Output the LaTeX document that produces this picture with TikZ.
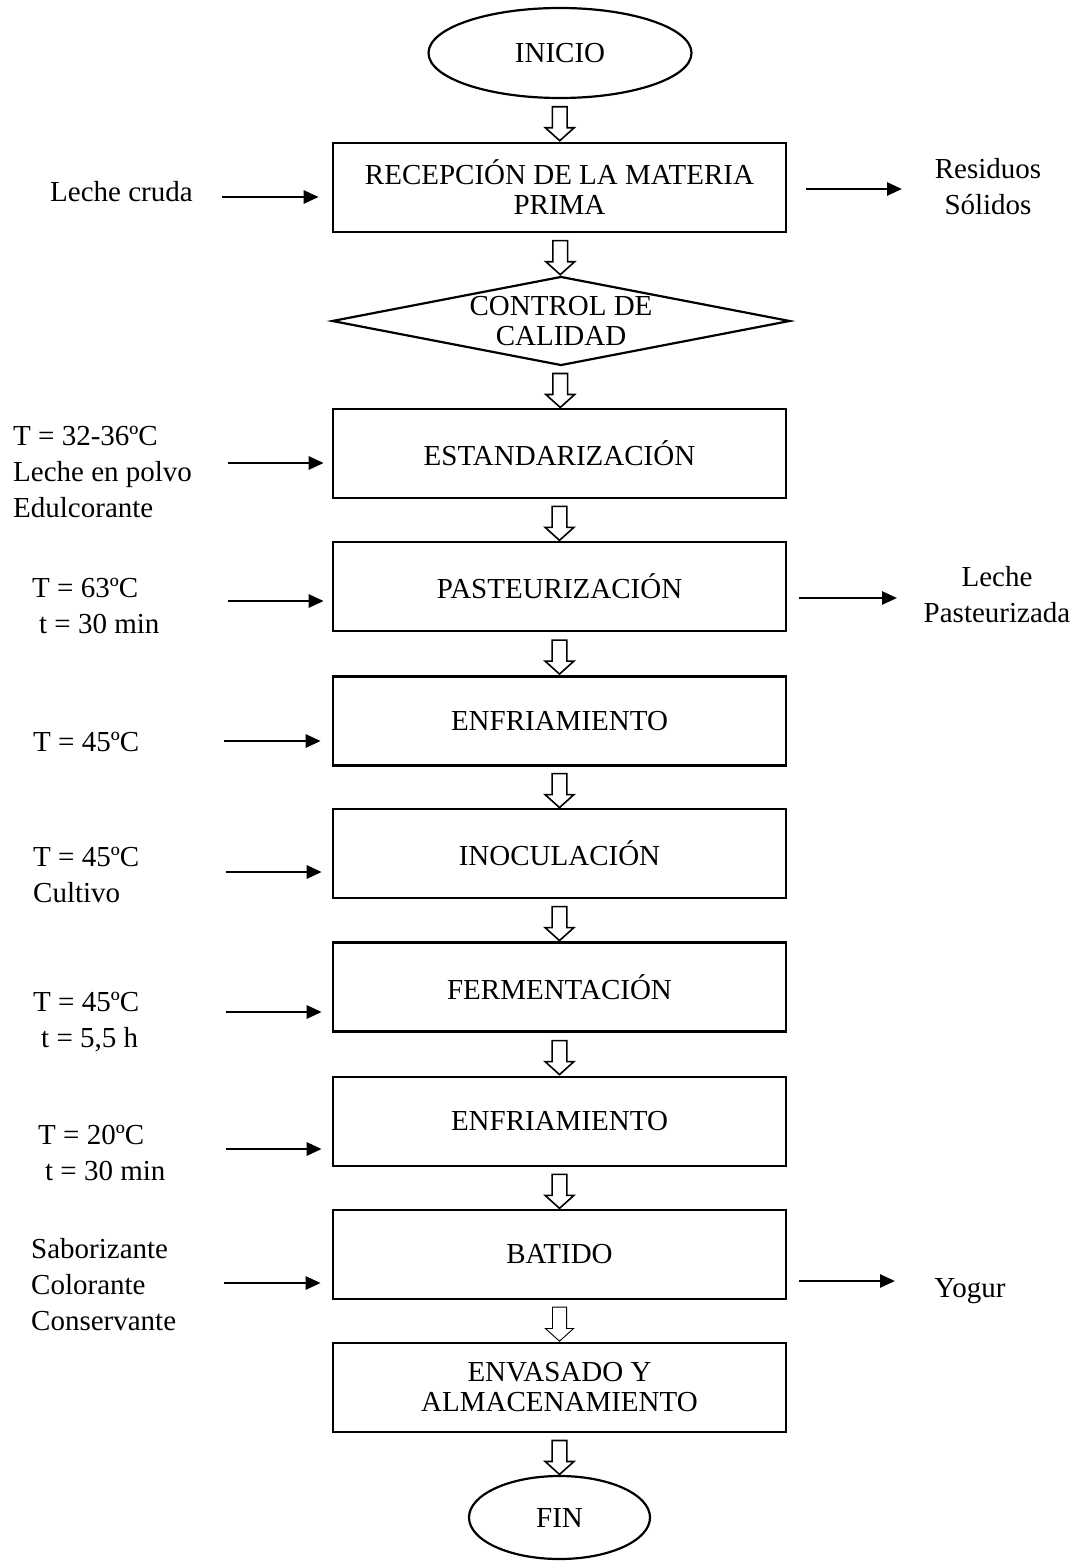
\documentclass[tikz,border=0pt]{standalone}
\usepackage{fontspec}
\setmainfont{Liberation Serif}
\usetikzlibrary{shapes.geometric,shapes.arrows,arrows.meta,positioning}

\begin{document}
\begin{tikzpicture}[x=1pt, y=-1pt, font=\fontsize{29}{36}\selectfont,
    box/.style={draw, line width=2.6pt, minimum width=453pt, minimum height=89pt, align=center, font=\fontsize{29}{30}\selectfont},
    term/.style={draw, ellipse, line width=2.2pt, inner sep=0pt},
    hollow/.style={single arrow, draw, line width=1.6pt, shape border rotate=270, inner sep=6.6pt, single arrow head extend=7pt, single arrow tip angle=96, minimum height=34pt},
    flow/.style={line width=2.7pt, -{Triangle[length=15pt, width=13pt]}},
    inlbl/.style={align=left, anchor=base west, inner sep=0pt},
    outlbl/.style={align=center, anchor=base, inner sep=0pt}]
	\useasboundingbox (0,0) rectangle (1083,1562);
	
	% etapas
	\node[term, minimum width=263pt, minimum height=90pt] (ini) at (560,53) {INICIO};
	\node[box] (rec) at (559.5,187.5) {RECEPCIÓN DE LA MATERIA\\PRIMA};
	\node[draw, diamond, line width=2.2pt, inner sep=-10pt, aspect=5.15, minimum width=458pt, minimum height=89pt, align=center, font=\fontsize{29}{30}\selectfont] (cal) at (561,321) {CONTROL DE\\CALIDAD};
	\node[box] (est) at (559.5,453.5) {ESTANDARIZACIÓN};
	\node[box] (pas) at (559.5,586.5) {PASTEURIZACIÓN};
	\node[box] (enfa) at (559.5,721) {ENFRIAMIENTO};
	\node[box] (ino) at (559.5,853.5) {INOCULACIÓN};
	\node[box] (fer) at (559.5,987) {FERMENTACIÓN};
	\node[box] (enfb) at (559.5,1121.5) {ENFRIAMIENTO};
	\node[box] (bat) at (559.5,1254.5) {BATIDO};
	\node[box] (env) at (559.5,1387.5) {ENVASADO Y\\ALMACENAMIENTO};
	\node[term, minimum width=181pt, minimum height=83pt] (fin) at (559.5,1517.5) {FIN};
	
	\foreach \a/\b in {ini/rec, rec/cal, cal/est, est/pas, pas/enfa, enfa/ino, ino/fer, fer/enfb, enfb/bat, env/fin}
		\path (\a.south) -- (\b.north) node[midway, hollow] {};
	\path (bat.south) -- (env.north) node[midway, hollow, line width=0.9pt] {};
	
	% entradas
	\node[inlbl] (crud) at (50,202) {Leche cruda};
	\node[inlbl] (estin) at (13,517) {T = 32-36ºC\\Leche en polvo\\Edulcorante};
	\node[inlbl] (pasin) at (32,633) {T = 63ºC\\\hspace*{7pt}t = 30 min};
	\node[inlbl] (enfain) at (33,751) {T = 45ºC};
	\node[inlbl] (inoin) at (33,902) {T = 45ºC\\Cultivo};
	\node[inlbl] (ferin) at (33,1047) {T = 45ºC\\\hspace*{8pt}t = 5,5 h};
	\node[inlbl] (enfbin) at (38,1180) {T = 20ºC\\\hspace*{7pt}t = 30 min};
	\node[inlbl] (batin) at (31,1330) {Saborizante\\Colorante\\Conservante};
	
	\foreach \n/\x/\y/\s in {rec/222/197/13pt, est/228/463/8pt, pas/228/601/8pt, enfa/224/741/11pt, ino/226/872/10pt, fer/226/1012/10pt, enfb/226/1149/10pt, bat/224/1283/11pt}{
		\coordinate (s\n) at (\x,\y);
		\draw[flow, shorten >=\s] (s\n) -- (s\n -| \n.west);
	}
	
	% salidas
	\node[outlbl] (res) at (988,215) {Residuos\\Sólidos};
	\node[outlbl] (lp) at (997,622) {Leche\\Pasteurizada};
	\node[outlbl] (yog) at (970,1297) {Yogur};
	
	\foreach \n/\x/\y/\s in {rec/902/189/19pt, pas/897/598/12pt, bat/895/1281/12pt}{
		\coordinate (t\n) at (\x,\y);
		\draw[flow, shorten <=\s] (t\n -| \n.east) -- (t\n);
	}
\end{tikzpicture}
\end{document}
